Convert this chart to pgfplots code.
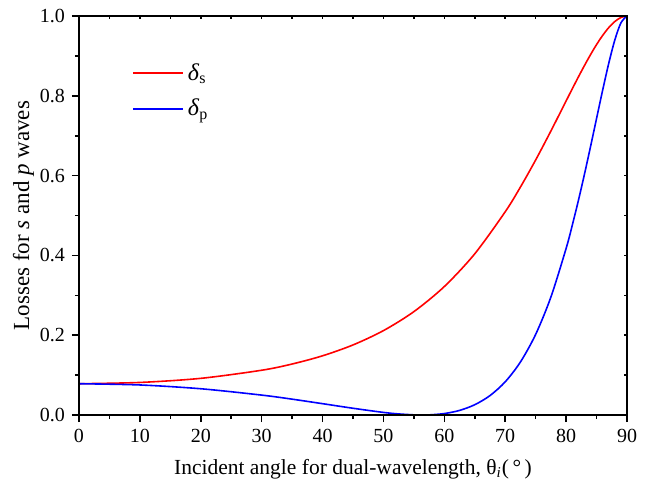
\documentclass[border=0pt]{standalone}
\usepackage{fontspec}
\setmainfont{Liberation Serif}
\usepackage{pgfplots}
\pgfplotsset{compat=1.18}

\pgfplotstableread{
th    ls
0     0.0784
10    0.0816
20    0.0919
30    0.1122
35    0.1278
40    0.1484
45    0.1756
50    0.2115
55    0.2591
60    0.3220
65    0.4041
70    0.5094
72.5  0.5714
75    0.6392
77.5  0.7118
80    0.7871
81    0.8172
82    0.8468
83    0.8755
84    0.9029
85    0.9284
86    0.9513
87    0.9709
88    0.9862
89    0.9963
90    1.0000
}\sdata

\pgfplotstableread{
th    lp
0     0.0784
10    0.0753
20    0.0658
30    0.0499
35    0.0397
40    0.0284
45    0.0169
50    0.0065
52.5  0.0027
55    0.0004
56.3  0.0000
57.5  0.0003
60    0.0036
62.5  0.0115
65    0.0258
67.5  0.0487
70    0.0832
72.5  0.1329
75    0.2021
77.5  0.2956
80    0.4175
81    0.4748
82    0.5366
83    0.6026
84    0.6720
85    0.7432
86    0.8141
87    0.8813
88    0.9399
89    0.9828
90    1.0000
}\pdata

\begin{document}
\begin{tikzpicture}
\useasboundingbox (-39.5pt,-37pt) rectangle (284pt,207.5pt);
\begin{axis}[
  at={(0,0)}, anchor=south west,
  scale only axis, width=274pt, height=199.5pt,
  xmin=0, xmax=90, ymin=0, ymax=1,
  xtick={0,10,...,90}, ytick={0,0.2,...,1.0},
  minor x tick num=1, minor y tick num=1,
  xtick pos=bottom, ytick pos=left,
  tick align=outside,
  major tick length=3.5pt, minor tick length=2pt,
  every tick/.style={black, line width=0.8pt},
  axis line style={line width=1pt},
  /pgf/number format/assume math mode=true,
  yticklabel style={/pgf/number format/fixed, /pgf/number format/fixed zerofill, /pgf/number format/precision=1},
  tick label style={font=\fontsize{10}{12}\selectfont},
  xlabel={Incident angle for dual-wavelength, θ\textsubscript{\textit{i}}(\,°\,)},
  ylabel={Losses for \textit{s} and \textit{p} waves},
  xlabel style={font=\fontsize{10.75}{12}\selectfont, at={(axis description cs:0.5,0)}, anchor=north, yshift=-18.5pt},
  ylabel style={font=\fontsize{11.5}{13}\selectfont, at={(axis description cs:0,0.5)}, anchor=south, yshift=19pt},
  legend style={draw=none, fill=none, at={(axis cs:7.7,0.9025)}, anchor=north west,
    font=\fontsize{12}{14}\selectfont, row sep=4pt},
  legend cell align=left,
  legend image code/.code={\draw[#1] (0pt,0pt) -- (25pt,0pt);},
]
\addplot[red, line width=0.8pt, smooth] table[x=th, y=ls] {\sdata};
\addplot[blue, line width=0.8pt, smooth] table[x=th, y=lp] {\pdata};
\legend{\textit{δ}\textsubscript{s}, \textit{δ}\textsubscript{p}}
\end{axis}
\begin{axis}[
  at={(0,0)}, anchor=south west,
  scale only axis, width=274pt, height=199.5pt,
  xmin=0, xmax=90, ymin=0, ymax=1,
  xtick={0,10,...,90}, ytick={0,0.2,...,1.0},
  minor x tick num=1, minor y tick num=1,
  xtick pos=top, ytick pos=right,
  tick align=inside,
  major tick length=1.5pt, minor tick length=1.5pt,
  every tick/.style={black, line width=0.8pt},
  axis line style={line width=1pt},
  xticklabels={}, yticklabels={},
]
\end{axis}
\end{tikzpicture}
\end{document}
